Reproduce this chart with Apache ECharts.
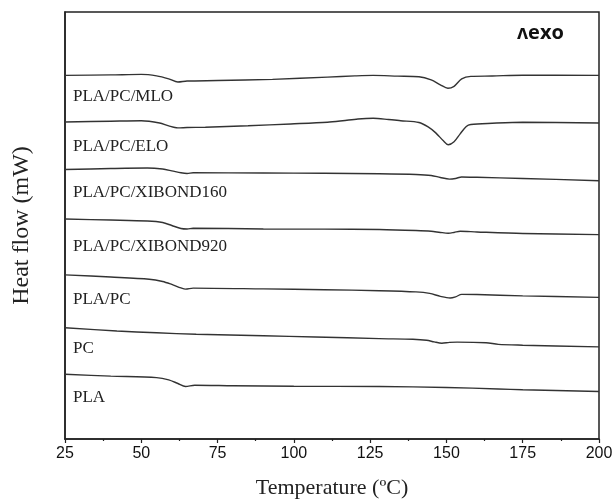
<!DOCTYPE html>
<html>
<head>
<meta charset="utf-8">
<script src="https://cdn.jsdelivr.net/npm/echarts@6/dist/echarts.min.js"></script>
<style>html,body{margin:0;padding:0;background:#fff;}#c{width:616px;height:504px;}</style>
</head>
<body>
<div id="c"></div>
<script>
// Temperature (°C) and heat flow (arbitrary units, curves stacked with offsets)
var tMLO  = [25, 40, 50, 55, 59, 62, 65, 75, 93, 111, 120, 126, 134, 141, 145, 148, 150.5, 152.5, 155, 158, 165, 175, 200];
var hfMLO = [367, 367.5, 368, 366.5, 363.5, 360.3, 361.3, 361.8, 363, 365.3, 366.5, 367, 366.3, 365.7, 362.5, 357.5, 354, 356, 363.5, 366, 366.4, 367.2, 367];

var tELO  = [25, 40, 50, 56, 59, 62, 65, 71, 85, 99, 111, 116, 121, 126, 131, 135, 141, 144, 146.5, 149, 150.6, 152.5, 154.5, 156.5, 158, 165, 175, 200];
var hfELO = [320, 320.8, 321.3, 319, 316, 314, 314.4, 314.7, 316.2, 318, 319.7, 321.2, 323, 323.7, 322.5, 321.3, 319.5, 315, 309, 301, 297, 300, 308, 315.5, 317.5, 318.7, 319.7, 319];

var tX160  = [25, 40, 52, 57, 60, 63, 65, 67, 90, 110, 128, 140, 145, 148, 151, 153, 155, 160, 175, 200];
var hfX160 = [272, 273, 273.5, 272.5, 270.7, 268.7, 268, 268.7, 268.5, 268.2, 267.7, 267, 266, 264, 262.3, 263, 264.5, 264.2, 263, 260.7];

var tX920  = [25, 40, 52, 57, 60, 63, 65, 67, 90, 110, 128, 140, 145, 148, 150.6, 152.5, 154.5, 160, 175, 200];
var hfX920 = [222, 221, 220, 218.5, 215.5, 212.5, 212, 212.7, 212, 211.8, 211.5, 210.5, 209.7, 208.5, 207.7, 208.5, 209.7, 209, 207.5, 206.3];

var tPLAPC  = [25, 40, 52.6, 57, 60, 63, 64.5, 67, 90, 110, 128, 140, 144.5, 148, 151.2, 153, 155, 160, 175, 200];
var hfPLAPC = [165.7, 163.5, 161.3, 159, 156, 152.5, 151.3, 152.3, 151.5, 150.7, 149.7, 148.5, 147, 144, 142.3, 143.5, 146, 145.8, 144.5, 143];

var tPC  = [25, 42, 55, 68, 90, 107, 128, 139, 143.5, 146, 148.5, 151, 153.5, 163, 167, 175, 200];
var hfPC = [112.3, 109, 107.2, 105.7, 104.2, 103, 101.3, 100.7, 99.7, 98, 96.7, 97.5, 97.8, 97.2, 95.5, 94.7, 93];

var tPLA  = [25, 40, 55, 59, 62, 64.5, 67.5, 80, 100, 128, 150, 167, 175, 200];
var hfPLA = [65.3, 63.5, 62, 59.7, 56, 53, 54.3, 53.8, 53.2, 53, 52, 50.5, 49.7, 48];

var seriesNames = ['PLA/PC/MLO', 'PLA/PC/ELO', 'PLA/PC/XIBOND160', 'PLA/PC/XIBOND920', 'PLA/PC', 'PC', 'PLA'];
var xTicks = [25, 50, 75, 100, 125, 150, 175, 200];

function pairs(t, v) { return t.map(function (x, i) { return [x, v[i]]; }); }
var allData = [
  pairs(tMLO, hfMLO), pairs(tELO, hfELO), pairs(tX160, hfX160), pairs(tX920, hfX920),
  pairs(tPLAPC, hfPLAPC), pairs(tPC, hfPC), pairs(tPLA, hfPLA)
];

var chart = echarts.init(document.getElementById('c'), null, { renderer: 'canvas' });

var series = allData.map(function (d, i) {
  return {
    name: seriesNames[i], type: 'line', data: d, showSymbol: false, smooth: 0.3,
    lineStyle: { color: '#333', width: 1.4 }, silent: true, animation: false
  };
});

// label text positions (pixels)
var labelY = [96.7, 146.7, 193.3, 247.3, 300, 349.3, 397.7];
var graphics = seriesNames.map(function (n, i) {
  return {
    type: 'text', left: 73, top: labelY[i] - 9, silent: true,
    style: { text: n, font: '17px "Liberation Serif", serif', fill: '#222' }
  };
});
graphics.push({
  type: 'text', left: 517, top: 23, silent: true,
  style: { text: '\u028Cexo', font: 'bold 20px "Open Sans", sans-serif', fill: '#111' }
});

chart.setOption({
  animation: false,
  backgroundColor: '#fff',
  grid: { left: 65, right: 17, top: 12, bottom: 61, show: true, borderColor: '#222', borderWidth: 1.5, backgroundColor: 'transparent' },
  xAxis: {
    type: 'value', min: 25, max: 200, interval: 25,
    name: 'Temperature (\u00BAC)', nameLocation: 'middle', nameGap: 38,
    nameTextStyle: { fontFamily: '"Liberation Serif", serif', fontSize: 22, color: '#222' },
    axisLine: { show: true, lineStyle: { color: '#222', width: 1.5 } },
    axisTick: { show: true, inside: false, length: 4, lineStyle: { color: '#222', width: 1.2 } },
    minorTick: { show: true, splitNumber: 2, length: 2, lineStyle: { color: '#222', width: 1.2 } },
    splitLine: { show: false },
    axisLabel: { fontFamily: '"Liberation Sans", Arial, sans-serif', fontSize: 16, color: '#111', margin: 7 }
  },
  yAxis: {
    type: 'value', min: 0, max: 431,
    name: 'Heat flow (mW)', nameLocation: 'middle', nameGap: 31,
    nameTextStyle: { fontFamily: '"Liberation Serif", serif', fontSize: 24, color: '#222' },
    axisLine: { show: true, lineStyle: { color: '#222', width: 1.5 } },
    axisTick: { show: false }, axisLabel: { show: false }, splitLine: { show: false }
  },
  series: series,
  graphic: graphics
});
</script>
</body>
</html>
